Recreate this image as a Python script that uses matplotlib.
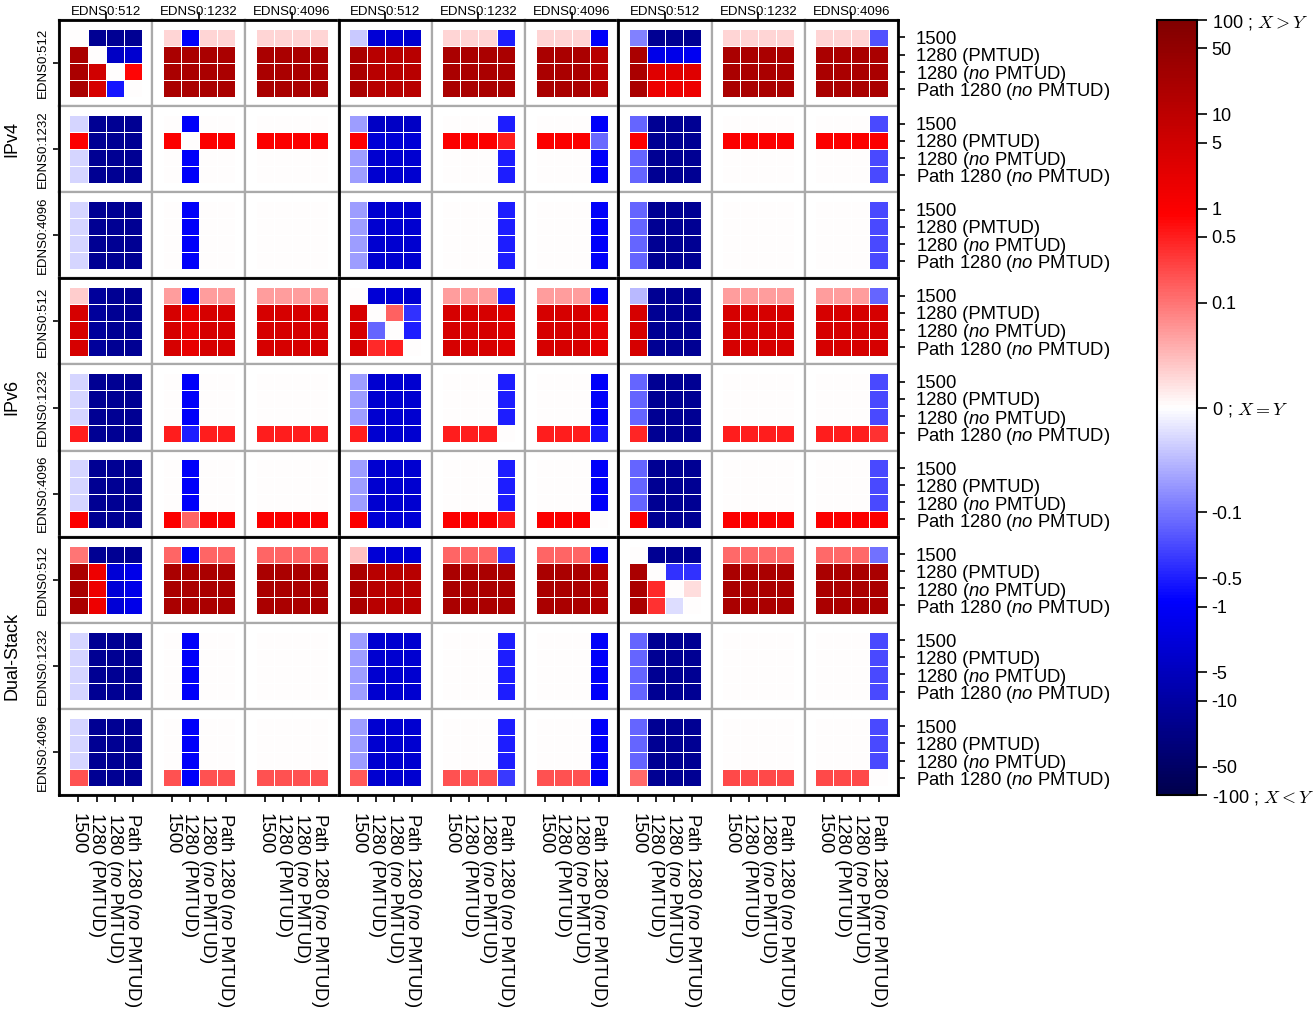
import numpy as np
import matplotlib
matplotlib.use("Agg")
import matplotlib.pyplot as plt
from matplotlib.colors import SymLogNorm
from matplotlib.gridspec import GridSpec
from matplotlib.cm import ScalarMappable

plt.rcParams['font.family'] = ['Liberation Sans', 'DejaVu Sans']
plt.rcParams['mathtext.fontset'] = 'custom'
plt.rcParams['mathtext.rm'] = 'Liberation Sans'
plt.rcParams['mathtext.it'] = 'Liberation Sans:italic'

groups = ['IPv4', 'IPv6', 'Dual-Stack']
edns = ['EDNS0:512', 'EDNS0:1232', 'EDNS0:4096']
mtu_labels = ['1500', '1280 (PMTUD)', '1280 ($\\mathit{no}$ PMTUD)',
              'Path 1280 ($\\mathit{no}$ PMTUD)']

cbar_ticks = [100, 50, 10, 5, 1, 0.5, 0.1, 0, -0.1, -0.5, -1, -5, -10, -50, -100]
cbar_labels = ['100 ; $X > Y$', '50', '10', '5', '1', '0.5', '0.1', '0 ; $X = Y$',
               '-0.1', '-0.5', '-1', '-5', '-10', '-50', '-100 ; $X < Y$']

# each block: rows = (EDNS row x 4 MTU rows), cols = (EDNS col x 4 MTU cols)
v4_v4 = [
    [0, -15, -15, -15, 0.03, -1, 0.03, 0.03, 0.03, 0.03, 0.03, 0.03],
    [20, 0, -4, -3, 20, 20, 20, 20, 20, 20, 20, 20],
    [20, 5, 0, 0.8, 20, 20, 20, 20, 20, 20, 20, 20],
    [20, 4, -0.6, 0, 20, 20, 20, 20, 20, 20, 20, 20],
    [-0.03, -15, -15, -15, 0, -1, 0, 0, 0, 0, 0, 0],
    [1, -15, -15, -15, 1, 0, 1, 1, 1, 1, 1, 1],
    [-0.03, -15, -15, -15, 0, -1, 0, 0, 0, 0, 0, 0],
    [-0.03, -15, -15, -15, 0, -1, 0, 0, 0, 0, 0, 0],
    [-0.03, -15, -15, -15, 0, -1, 0, 0, 0, 0, 0, 0],
    [-0.03, -15, -15, -15, 0, -1, 0, 0, 0, 0, 0, 0],
    [-0.03, -15, -15, -15, 0, -1, 0, 0, 0, 0, 0, 0],
    [-0.03, -15, -15, -15, 0, -1, 0, 0, 0, 0, 0, 0],
]
v4_v6 = [
    [-0.04, -2.5, -2.5, -3, 0.03, 0.03, 0.03, -0.5, 0.03, 0.03, 0.03, -1],
    [20, 12, 12, 12, 20, 20, 20, 20, 20, 20, 20, 12],
    [20, 12, 12, 12, 20, 20, 20, 20, 20, 20, 20, 12],
    [20, 12, 12, 12, 20, 20, 20, 20, 20, 20, 20, 12],
    [-0.07, -4, -4, -4, 0, 0, 0, -0.5, 0, 0, 0, -1],
    [1, -2.5, -2.5, -2.5, 1, 1, 1, 0.5, 1, 1, 1, -0.12],
    [-0.07, -3, -3, -3, 0, 0, 0, -0.5, 0, 0, 0, -1],
    [-0.07, -3, -3, -3, 0, 0, 0, -0.5, 0, 0, 0, -1],
    [-0.07, -3, -3, -3, 0, 0, 0, -0.5, 0, 0, 0, -1],
    [-0.07, -3, -3, -3, 0, 0, 0, -0.5, 0, 0, 0, -1],
    [-0.07, -3, -3, -3, 0, 0, 0, -0.5, 0, 0, 0, -1],
    [-0.07, -3, -3, -3, 0, 0, 0, -0.5, 0, 0, 0, -1],
]
v4_ds = [
    [-0.09, -15, -15, -15, 0.03, 0.03, 0.03, 0.03, 0.03, 0.03, 0.03, -0.2],
    [20, -1.5, -1.5, -1.2, 20, 20, 20, 20, 20, 20, 20, 20],
    [20, 2.7, 2.7, 2.7, 20, 20, 20, 20, 20, 20, 20, 20],
    [20, 1.7, 1.7, 1.6, 20, 20, 20, 20, 20, 20, 20, 20],
    [-0.13, -15, -15, -15, 0, 0, 0, 0, 0, 0, 0, -0.23],
    [1, -15, -15, -15, 1, 1, 1, 1, 1, 1, 1, 1],
    [-0.13, -15, -15, -15, 0, 0, 0, 0, 0, 0, 0, -0.23],
    [-0.13, -15, -15, -15, 0, 0, 0, 0, 0, 0, 0, -0.23],
    [-0.13, -15, -15, -15, 0, 0, 0, 0, 0, 0, 0, -0.23],
    [-0.13, -15, -15, -15, 0, 0, 0, 0, 0, 0, 0, -0.23],
    [-0.13, -15, -15, -15, 0, 0, 0, 0, 0, 0, 0, -0.23],
    [-0.13, -15, -15, -15, 0, 0, 0, 0, 0, 0, 0, -0.23],
]
v6_v4 = [
    [0.035, -12, -15, -15, 0.07, -1, 0.07, 0.07, 0.07, 0.07, 0.07, 0.07],
    [4, -12, -15, -15, 4, 2, 4, 4, 4, 4, 4, 4],
    [4, -12, -15, -15, 4, 2, 4, 4, 4, 4, 4, 4],
    [4, -12, -15, -15, 4, 2, 4, 4, 4, 4, 4, 4],
    [-0.03, -15, -15, -15, 0, -1, 0, 0, 0, 0, 0, 0],
    [-0.03, -15, -15, -15, 0, -1, 0, 0, 0, 0, 0, 0],
    [-0.03, -15, -15, -15, 0, -1, 0, 0, 0, 0, 0, 0],
    [0.5, -15, -15, -15, 0.5, -0.5, 0.5, 0.5, 0.5, 0.5, 0.5, 0.5],
    [-0.03, -15, -15, -15, 0, -1, 0, 0, 0, 0, 0, 0],
    [-0.03, -15, -15, -15, 0, -1, 0, 0, 0, 0, 0, 0],
    [-0.03, -15, -15, -15, 0, -1, 0, 0, 0, 0, 0, 0],
    [1, -15, -15, -15, 1, 0.13, 1, 1, 1, 1, 1, 1],
]
v6_v6 = [
    [0, -2.5, -2.5, -3, 0.07, 0.07, 0.07, -0.5, 0.07, 0.07, 0.07, -1],
    [4, 0, 0.14, -0.35, 4, 4, 4, 3, 4, 4, 4, 2.3],
    [4, -0.13, 0, -0.5, 4, 4, 4, 3, 4, 4, 4, 2.3],
    [4, 0.4, 0.5, 0, 4, 4, 4, 3, 4, 4, 4, 2.3],
    [-0.07, -3, -3, -3, 0, 0, 0, -0.5, 0, 0, 0, -1],
    [-0.07, -3, -3, -3, 0, 0, 0, -0.5, 0, 0, 0, -1],
    [-0.07, -3, -3, -3, 0, 0, 0, -0.5, 0, 0, 0, -1],
    [0.5, -3, -3, -3, 0.5, 0.5, 0.5, 0, 0.5, 0.5, 0.5, -0.6],
    [-0.07, -3, -3, -3, 0, 0, 0, -0.5, 0, 0, 0, -1],
    [-0.07, -3, -3, -3, 0, 0, 0, -0.5, 0, 0, 0, -1],
    [-0.07, -3, -3, -3, 0, 0, 0, -0.5, 0, 0, 0, -1],
    [1, -2.5, -2.5, -2.5, 1, 1, 1, 0.6, 1, 1, 1, 0],
]
v6_ds = [
    [-0.05, -15, -15, -15, 0.07, 0.07, 0.07, 0.07, 0.07, 0.07, 0.07, -0.13],
    [4, -15, -15, -15, 4, 4, 4, 4, 4, 4, 4, 4],
    [4, -15, -15, -15, 4, 4, 4, 4, 4, 4, 4, 4],
    [4, -15, -15, -15, 4, 4, 4, 4, 4, 4, 4, 4],
    [-0.13, -15, -15, -15, 0, 0, 0, 0, 0, 0, 0, -0.22],
    [-0.13, -15, -15, -15, 0, 0, 0, 0, 0, 0, 0, -0.22],
    [-0.13, -15, -15, -15, 0, 0, 0, 0, 0, 0, 0, -0.22],
    [0.45, -15, -15, -15, 0.5, 0.5, 0.5, 0.5, 0.5, 0.5, 0.5, 0.35],
    [-0.13, -15, -15, -15, 0, 0, 0, 0, 0, 0, 0, -0.22],
    [-0.13, -15, -15, -15, 0, 0, 0, 0, 0, 0, 0, -0.22],
    [-0.13, -15, -15, -15, 0, 0, 0, 0, 0, 0, 0, -0.22],
    [1, -15, -15, -15, 1, 1, 1, 1, 1, 1, 1, 1],
]
ds_v4 = [
    [0.1, -15, -15, -15, 0.13, -1, 0.13, 0.13, 0.13, 0.13, 0.13, 0.13],
    [20, 1.7, -2.5, -1.5, 20, 20, 20, 20, 20, 20, 20, 20],
    [20, 1.7, -2.5, -1.5, 20, 20, 20, 20, 20, 20, 20, 20],
    [20, 1.7, -2.5, -1.5, 20, 20, 20, 20, 20, 20, 20, 20],
    [-0.03, -15, -15, -15, 0, -1, 0, 0, 0, 0, 0, 0],
    [-0.03, -15, -15, -15, 0, -1, 0, 0, 0, 0, 0, 0],
    [-0.03, -15, -15, -15, 0, -1, 0, 0, 0, 0, 0, 0],
    [-0.03, -15, -15, -15, 0, -1, 0, 0, 0, 0, 0, 0],
    [-0.03, -15, -15, -15, 0, -1, 0, 0, 0, 0, 0, 0],
    [-0.03, -15, -15, -15, 0, -1, 0, 0, 0, 0, 0, 0],
    [-0.03, -15, -15, -15, 0, -1, 0, 0, 0, 0, 0, 0],
    [0.2, -15, -15, -15, 0.2, -1, 0.2, 0.2, 0.2, 0.2, 0.2, 0.2],
]
ds_v6 = [
    [0.045, -2.5, -2.5, -2.5, 0.13, 0.13, 0.13, -0.35, 0.13, 0.13, 0.13, -1],
    [20, 12, 12, 12, 20, 20, 20, 20, 20, 20, 20, 15],
    [20, 12, 12, 12, 20, 20, 20, 20, 20, 20, 20, 15],
    [20, 12, 12, 12, 20, 20, 20, 20, 20, 20, 20, 15],
    [-0.07, -3, -3, -3, 0, 0, 0, -0.5, 0, 0, 0, -1],
    [-0.07, -3, -3, -3, 0, 0, 0, -0.5, 0, 0, 0, -1],
    [-0.07, -3, -3, -3, 0, 0, 0, -0.5, 0, 0, 0, -1],
    [-0.07, -3, -3, -3, 0, 0, 0, -0.5, 0, 0, 0, -1],
    [-0.07, -3, -3, -3, 0, 0, 0, -0.5, 0, 0, 0, -1],
    [-0.07, -3, -3, -3, 0, 0, 0, -0.5, 0, 0, 0, -1],
    [-0.07, -3, -3, -3, 0, 0, 0, -0.5, 0, 0, 0, -1],
    [0.17, -3, -3, -3, 0.2, 0.2, 0.2, -0.3, 0.2, 0.2, 0.2, -1],
]
ds_ds = [
    [0, -15, -15, -15, 0.12, 0.12, 0.12, 0.12, 0.12, 0.12, 0.12, -0.11],
    [20, 0, -0.35, -0.35, 20, 20, 20, 20, 20, 20, 20, 20],
    [20, 0.4, 0, 0.025, 20, 20, 20, 20, 20, 20, 20, 20],
    [20, 0.35, -0.025, 0, 20, 20, 20, 20, 20, 20, 20, 20],
    [-0.13, -15, -15, -15, 0, 0, 0, 0, 0, 0, 0, -0.22],
    [-0.13, -15, -15, -15, 0, 0, 0, 0, 0, 0, 0, -0.22],
    [-0.13, -15, -15, -15, 0, 0, 0, 0, 0, 0, 0, -0.22],
    [-0.13, -15, -15, -15, 0, 0, 0, 0, 0, 0, 0, -0.22],
    [-0.13, -15, -15, -15, 0, 0, 0, 0, 0, 0, 0, -0.22],
    [-0.13, -15, -15, -15, 0, 0, 0, 0, 0, 0, 0, -0.22],
    [-0.13, -15, -15, -15, 0, 0, 0, 0, 0, 0, 0, -0.22],
    [0.12, -15, -15, -15, 0.23, 0.23, 0.23, 0.23, 0.23, 0.23, 0.23, 0],
]

blocks = [[v4_v4, v4_v6, v4_ds],
          [v6_v4, v6_v6, v6_ds],
          [ds_v4, ds_v6, ds_ds]]

norm = SymLogNorm(linthresh=0.1, linscale=1, vmin=-100, vmax=100, base=10)
cmap = 'seismic'

fig = plt.figure(figsize=(13.16, 10.11), dpi=100)
gs = GridSpec(9, 9, figure=fig, left=0.0448, right=0.6824, bottom=0.2136,
              top=0.9802, wspace=0, hspace=0)

ticks = [0.5, 1.5, 2.5, 3.5]
for bi in range(3):
    for bj in range(3):
        arr = np.array(blocks[bi][bj], dtype=float)
        for ei in range(3):
            for ej in range(3):
                r, c = bi * 3 + ei, bj * 3 + ej
                ax = fig.add_subplot(gs[r, c])
                sub = arr[ei * 4:(ei + 1) * 4, ej * 4:(ej + 1) * 4]
                ax.pcolormesh(sub, cmap=cmap, norm=norm, edgecolors='white', linewidth=0.7)
                ax.set_xlim(-0.58, 4.58)
                ax.set_ylim(4.52, -0.52)
                for s in ax.spines.values():
                    s.set_color('#aaaaaa')
                    s.set_linewidth(1.6)
                ax.set_xticks([])
                ax.set_yticks([])
                ax.tick_params(length=5, width=1.2, labelsize=13.3)
                if r == 8:
                    ax.set_xticks(ticks, labels=mtu_labels, rotation=-90, fontsize=13.3)
                    ax.tick_params(axis='x', pad=8)
                if r == 0:
                    ax.xaxis.tick_top()
                    ax.set_xticks([2.0], labels=[edns[ej]], fontsize=9.5)
                    ax.tick_params(axis='x', length=6, pad=-4.5)
                if c == 8:
                    ax.yaxis.tick_right()
                    ax.set_yticks(ticks, labels=mtu_labels, fontsize=13.3)
                    ax.tick_params(axis='y', pad=8)
                if c == 0:
                    ax.set_yticks([2.0], labels=[edns[ei]], fontsize=9.5, rotation=90, va='center')
                    ax.tick_params(axis='y', length=4.5, pad=3)
        # black frame around each block
        bax = fig.add_subplot(gs[bi * 3:bi * 3 + 3, bj * 3:bj * 3 + 3])
        bax.set_facecolor('none')
        bax.set_xticks([])
        bax.set_yticks([])
        for s in bax.spines.values():
            s.set_color('black')
            s.set_linewidth(2)
        if bj == 0:
            bax.text(-0.168, 0.54, groups[bi], transform=bax.transAxes, rotation=90,
                     ha='center', va='center', fontsize=13)

cax = fig.add_axes([0.8792, 0.2136, 0.0304, 0.7666])
cb = fig.colorbar(ScalarMappable(norm=norm, cmap=cmap), cax=cax)
cb.set_ticks(cbar_ticks)
cb.set_ticklabels(cbar_labels)
cb.outline.set_linewidth(1.5)
cax.tick_params(length=7, width=1.2, labelsize=13)
cax.minorticks_off()
for lab in cax.get_yticklabels():
    lab.set_math_fontfamily('cm')

fig.savefig('out.png', dpi=100)
